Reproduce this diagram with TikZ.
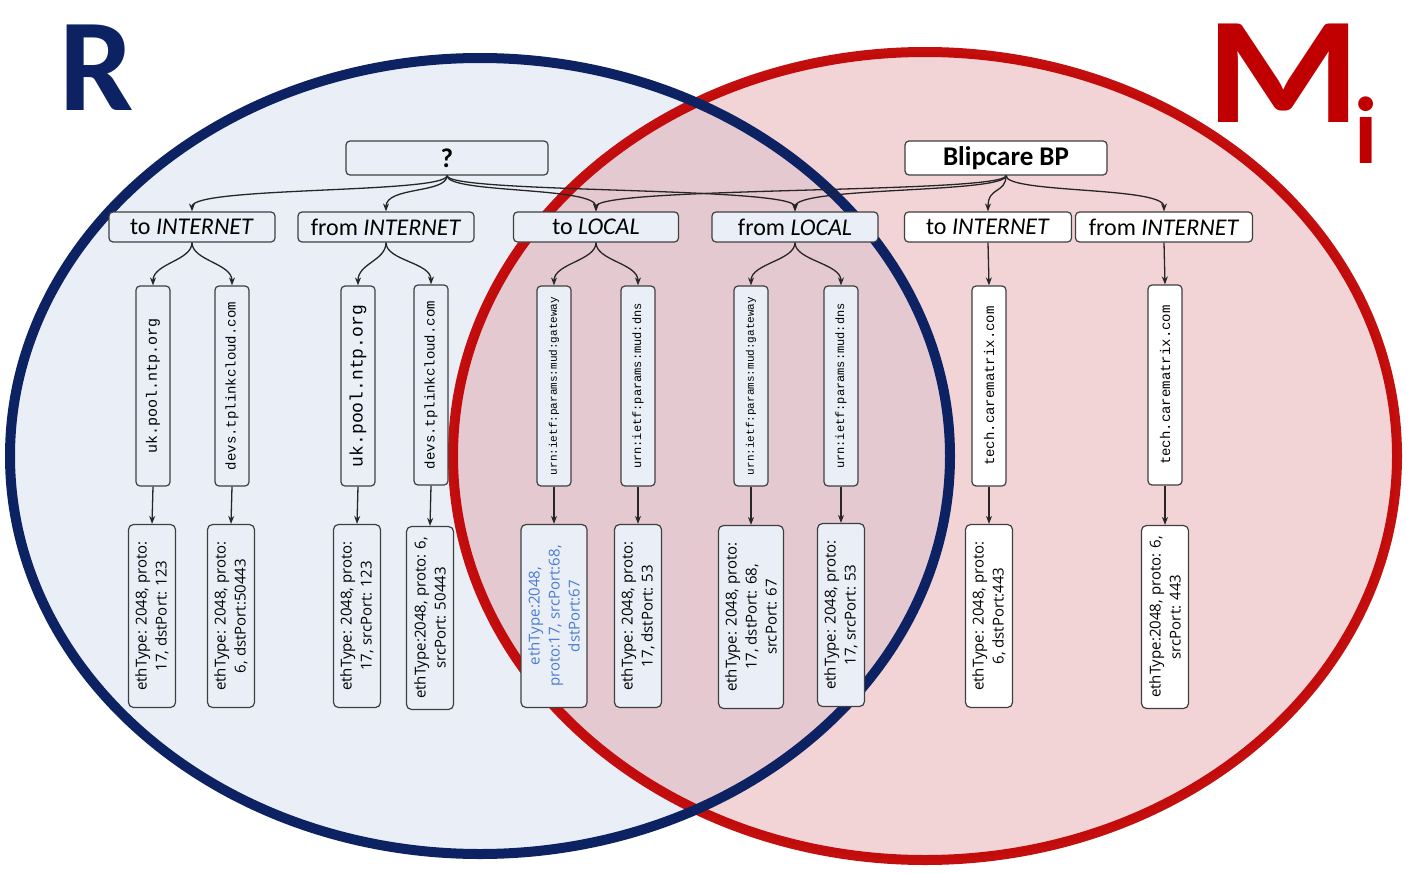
\documentclass[tikz,border=0pt]{standalone}
\usepackage{fontspec}
\setmainfont{Carlito}
\setmonofont{Liberation Mono}
\newfontfamily\rulefont{Open Sans}
\usepackage{xcolor}
\usetikzlibrary{arrows.meta,positioning,calc}
\definecolor{navy}{HTML}{0D2262}
\definecolor{crimson}{HTML}{C00000}
\definecolor{pale}{HTML}{EAEEF7}
\definecolor{rose}{RGB}{222,147,152}
\definecolor{edge}{HTML}{3F3F3F}
\definecolor{cyanblue}{HTML}{4A7BD0}

\begin{document}
\begin{tikzpicture}[x=1pt,y=-1pt,
  cat/.style={draw=edge,line width=1.2pt,rounded corners=4pt,fill=pale,minimum height=30pt,inner sep=0pt,font=\fontsize{24}{26}\selectfont},
  root/.style={cat,minimum height=34pt,minimum width=202pt,font=\fontsize{27}{28}\selectfont\bfseries},
  hostbox/.style={draw=edge,line width=1.2pt,rounded corners=4pt,fill=pale,rotate=90,minimum width=200pt,minimum height=34pt,inner sep=0pt,font=\ttfamily},
  rulebox/.style={draw=edge,line width=1.2pt,rounded corners=5pt,fill=pale,rotate=90,minimum width=183pt,minimum height=47pt,inner sep=0pt,align=center,font=\rulefont\fontsize{15}{20}\selectfont},
  arr/.style={-{Stealth[length=8pt,width=6pt]},line width=1.3pt,draw=black!85}
]
\useasboundingbox (0,0) rectangle (1411,875);
% the two sets
\fill[pale] (480,456) ellipse [x radius=470,y radius=398];
\fill[rose,fill opacity=0.4] (925,456) ellipse [x radius=472,y radius=404];
\draw[crimson,line width=10pt,draw opacity=0.94] (925,456) ellipse [x radius=472,y radius=404];
\draw[navy,line width=10pt] (480,456) ellipse [x radius=470,y radius=398];
\node[text=navy,font=\fontsize{132}{132}\selectfont\bfseries,inner sep=0pt] (setR) at (97,68) {R};
\node[text=crimson,font=\fontsize{152}{152}\selectfont\bfseries,inner sep=0pt,anchor=base west] (setM) at (1206,122) {\scalebox{1.16}[1]{M}\kern-0.04em\raisebox{-0.27em}{\fontsize{95}{95}\selectfont i}};

% roots
\node[root] (unknown) at (447,158) {?};
\node[root,fill=white] (bp) at (1006,158) {Blipcare BP};

% directions
\node[cat,minimum width=166pt] (rtoint) at (192,227) {to \textit{INTERNET}};
\node[cat,minimum width=176pt] (rfromint) at (386,227) {from \textit{INTERNET}};
\node[cat,minimum width=165pt] (tolocal) at (596,227) {to \textit{LOCAL}};
\node[cat,minimum width=166pt] (fromlocal) at (795,227) {from \textit{LOCAL}};
\node[cat,fill=white,minimum width=167pt] (mtoint) at (988,227) {to \textit{INTERNET}};
\node[cat,fill=white,minimum width=177pt] (mfromint) at (1164,227) {from \textit{INTERNET}};

% hosts
\node[hostbox,font=\ttfamily\fontsize{15}{15}\selectfont] (ntpa) at (153,386) {uk.pool.ntp.org};
\node[hostbox,font=\ttfamily\fontsize{14}{14}\selectfont] (tplinka) at (232,386) {devs.tplinkcloud.com};
\node[hostbox,font=\ttfamily\fontsize{18}{18}\selectfont] (ntpb) at (358,386) {uk.pool.ntp.org};
\node[hostbox,font=\ttfamily\fontsize{14}{14}\selectfont] (tplinkb) at (431,385) {devs.tplinkcloud.com};
\node[hostbox,font=\ttfamily\fontsize{11}{11}\selectfont] (gwa) at (554,386) {urn:ietf:params:mud:gateway};
\node[hostbox,font=\ttfamily\fontsize{12}{12}\selectfont] (dnsa) at (638,386) {urn:ietf:params:mud:dns};
\node[hostbox,font=\ttfamily\fontsize{11}{11}\selectfont] (gwb) at (751,386) {urn:ietf:params:mud:gateway};
\node[hostbox,font=\ttfamily\fontsize{12}{12}\selectfont] (dnsb) at (841,386) {urn:ietf:params:mud:dns};
\node[hostbox,fill=white,font=\ttfamily\fontsize{14}{14}\selectfont] (carea) at (989,386) {tech.carematrix.com};
\node[hostbox,fill=white,font=\ttfamily\fontsize{14}{14}\selectfont] (careb) at (1165,385) {tech.carematrix.com};

% rules
\node[rulebox] (ruleA) at (152,616) {ethType: 2048, proto:\\17, dstPort: 123};
\node[rulebox] (ruleB) at (231,616) {ethType: 2048, proto:\\6, dstPort:50443};
\node[rulebox] (ruleC) at (357,616) {ethType: 2048, proto:\\17, srcPort: 123};
\node[rulebox] (ruleD) at (430,618) {ethType:2048, proto: 6,\\srcPort: 50443};
\node[rulebox,minimum height=66pt,text=cyanblue] (ruleE) at (554,616) {ethType:2048,\\proto:17, srcPort:68,\\dstPort:67};
\node[rulebox] (ruleF) at (638,616) {ethType: 2048, proto:\\17, dstPort: 53};
\node[rulebox,minimum height=65pt] (ruleG) at (751,617) {ethType: 2048, proto:\\17, dstPort: 68,\\srcPort: 67};
\node[rulebox] (ruleH) at (841,615) {ethType: 2048, proto:\\17, srcPort: 53};
\node[rulebox,fill=white] (ruleI) at (989,616) {ethType: 2048, proto:\\6, dstPort:443};
\node[rulebox,fill=white] (ruleJ) at (1165,617) {ethType:2048, proto: 6,\\srcPort: 443};

% connectors
\foreach \child in {rtoint,rfromint,tolocal,fromlocal}
  \draw[arr] (unknown.south) .. controls +(0,18) and +(0,-25) .. (\child.north);
\foreach \child in {tolocal,fromlocal,mtoint,mfromint}
  \draw[arr] (bp.south) .. controls +(0,18) and +(0,-25) .. (\child.north);
\foreach \dir/\host in {rtoint/ntpa,rtoint/tplinka,rfromint/ntpb,rfromint/tplinkb,tolocal/gwa,tolocal/dnsa,fromlocal/gwb,fromlocal/dnsb}
  \draw[arr] (\dir.south) .. controls +(0,18) and +(0,-22) .. (\host.east);
\draw[arr] (mtoint.south) -- (carea.east);
\draw[arr] (mfromint.south) -- (careb.east);
\foreach \host/\rul in {ntpa/ruleA,tplinka/ruleB,ntpb/ruleC,tplinkb/ruleD,gwa/ruleE,dnsa/ruleF,gwb/ruleG,dnsb/ruleH,carea/ruleI,careb/ruleJ}
  \draw[arr] (\host.west) -- (\rul.east);
\end{tikzpicture}
\end{document}
